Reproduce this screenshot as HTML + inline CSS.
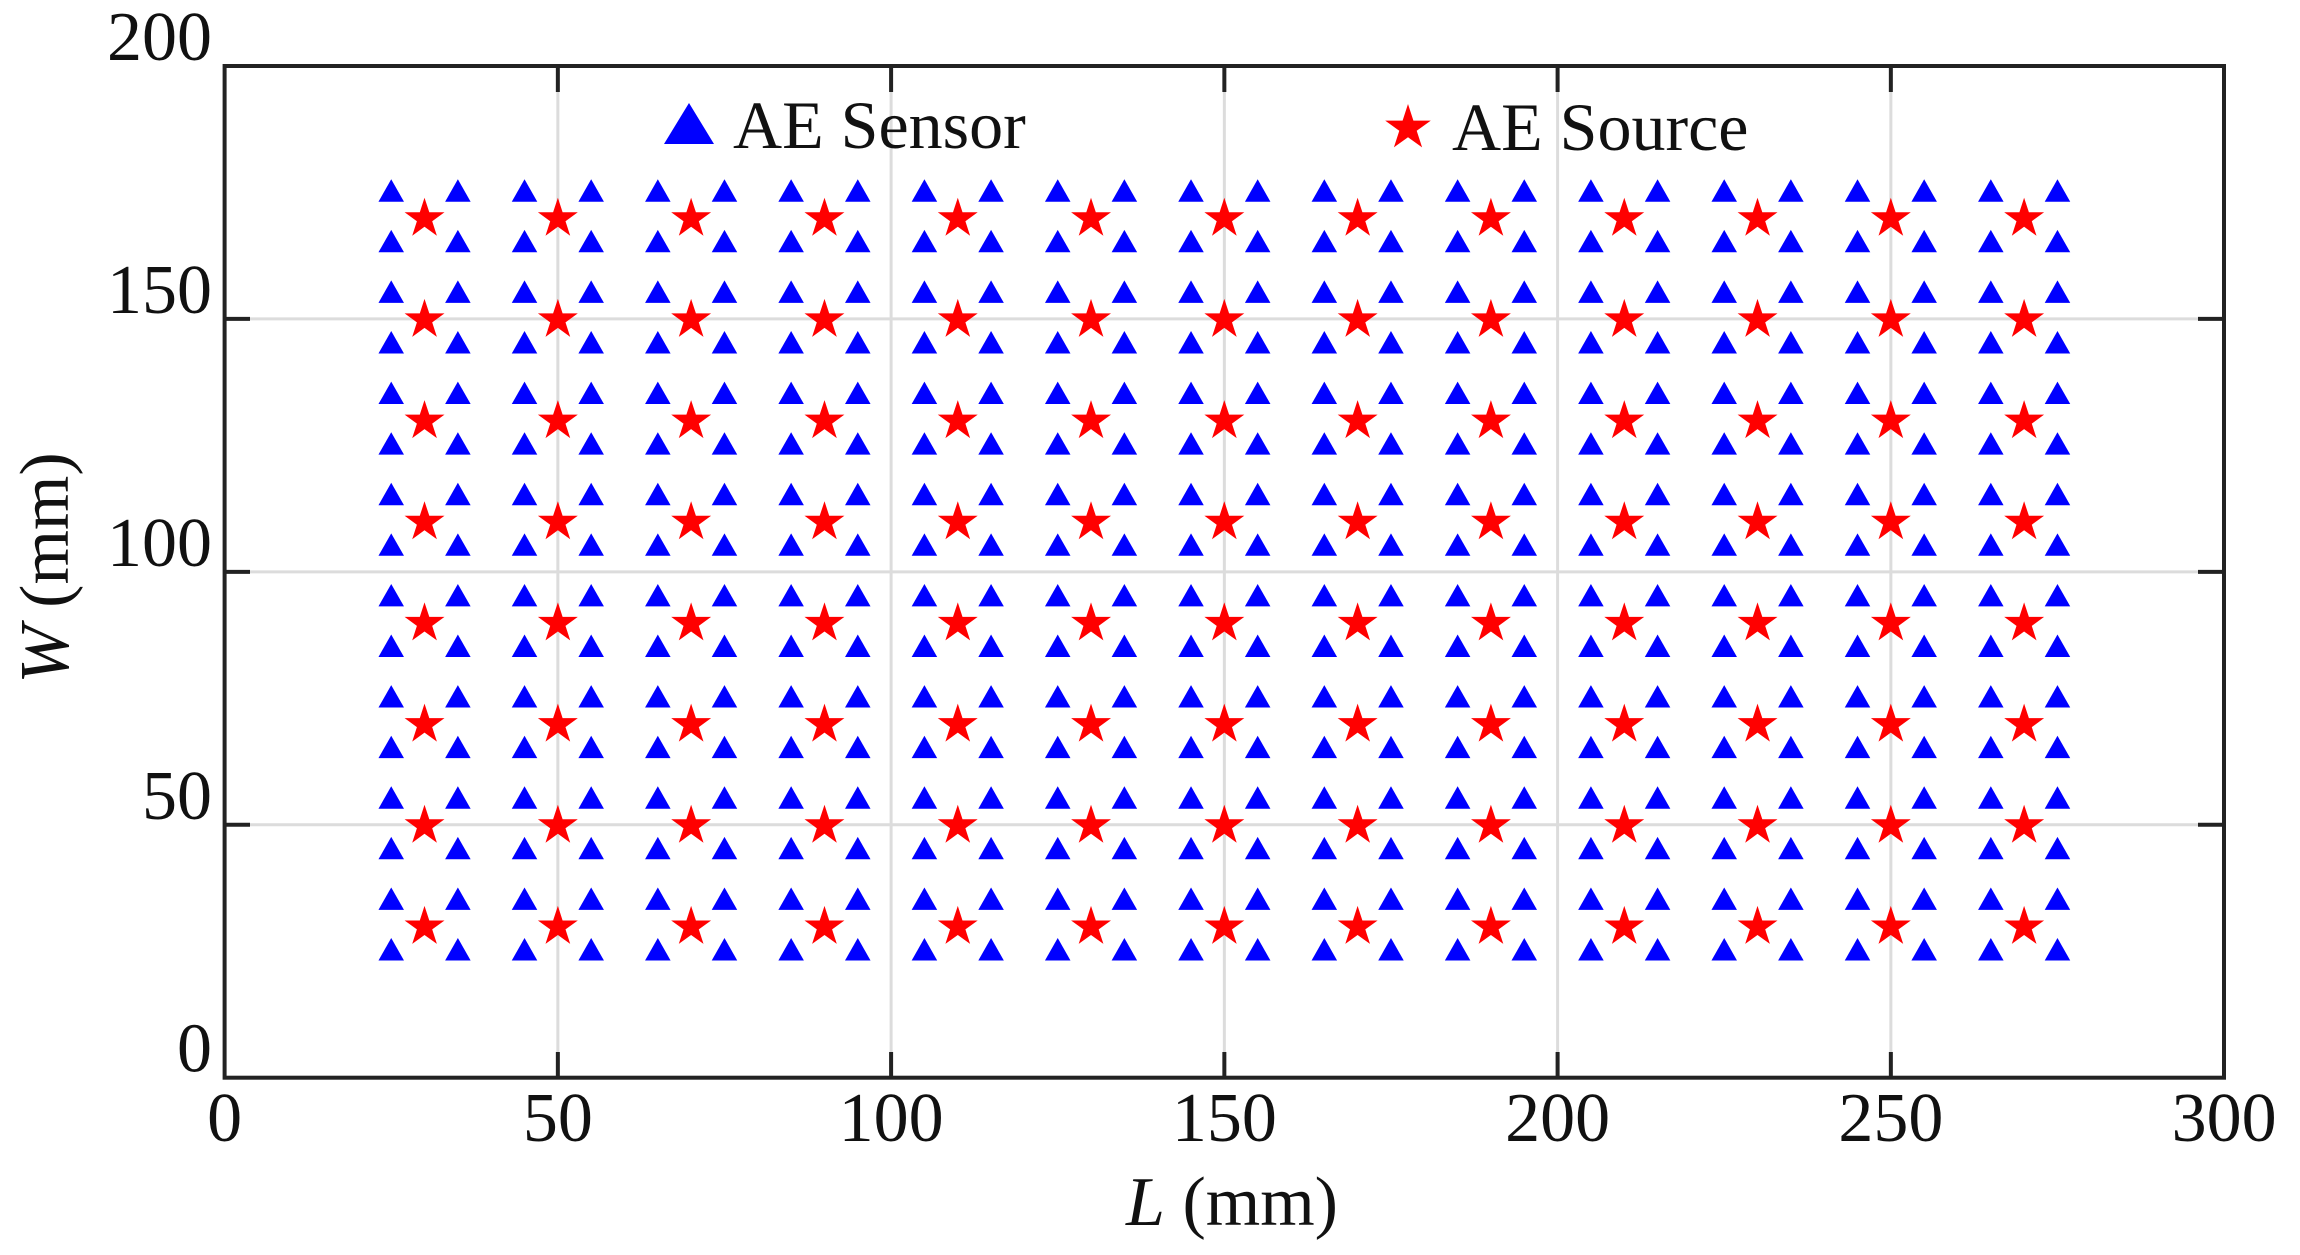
<!DOCTYPE html>
<html><head><style>body{margin:0;background:#fff}svg{display:block}</style></head>
<body>
<svg id="s" width="2300" height="1255" xmlns="http://www.w3.org/2000/svg" font-family="Liberation Serif, serif" fill="#111">
<rect width="2300" height="1255" fill="#fff"/>
<g id="grid" stroke="#dcdcdc" stroke-width="3"></g>
<g id="marks"></g>
<rect x="224.6" y="66" width="1999.4" height="1011.7" fill="none" stroke="#222" stroke-width="4"/>
<g id="ticks" stroke="#222" stroke-width="4"></g>
<g id="labels" font-size="70"></g>
<polygon points="689,103 664,144 714,144" fill="#0000ff"/>
<text x="733" y="148" font-size="68">AE Sensor</text>
<g id="legstar"></g>
<text x="1452" y="150" font-size="68">AE Source</text>
<text x="1232" y="1225" font-size="70" text-anchor="middle"><tspan font-style="italic">L</tspan> (mm)</text>
<text transform="translate(68,568) rotate(-90)" font-size="70" text-anchor="middle"><tspan font-style="italic">W</tspan> (mm)</text>
</svg>
<script>
var NS="http://www.w3.org/2000/svg";
function X(v){return 224.6+v*6.665;}function Y(v){return 1077.7-v*5.0585;}
function el(p,t,a){var e=document.createElementNS(NS,t);for(var k in a)e.setAttribute(k,a[k]);p.appendChild(e);return e;}
var g=document.getElementById('grid'),tk=document.getElementById('ticks'),lb=document.getElementById('labels'),m=document.getElementById('marks');
for(var v=50;v<300;v+=50){el(g,'line',{x1:X(v),x2:X(v),y1:66,y2:1077.7});}
for(var v=50;v<200;v+=50){el(g,'line',{x1:224.6,x2:2224,y1:Y(v),y2:Y(v)});}
for(var v=0;v<=300;v+=50){if(v>0&&v<300){el(tk,'line',{x1:X(v),x2:X(v),y1:1077.7,y2:1052});el(tk,'line',{x1:X(v),x2:X(v),y1:66,y2:92});}
 var t=el(lb,'text',{x:X(v),y:1141,'text-anchor':'middle'});t.textContent=v;}
for(var v=0;v<=200;v+=50){if(v>0&&v<200){el(tk,'line',{x1:224.6,x2:250,y1:Y(v),y2:Y(v)});el(tk,'line',{x1:2224,x2:2198,y1:Y(v),y2:Y(v)});}
 var t=el(lb,'text',{x:212,y:Y(v)-6,'text-anchor':'end'});t.textContent=v;}
function star(p,cx,cy,R){var r=R*0.382,pts=[];for(var i=0;i<10;i++){var a=-Math.PI/2+i*Math.PI/5,rr=i%2?r:R;pts.push((cx+rr*Math.cos(a)).toFixed(1)+','+(cy+rr*Math.sin(a)).toFixed(1));}el(p,'polygon',{points:pts.join(' '),fill:'#ff0000'});}
function tri(p,cx,cy,s){var h=s;el(p,'polygon',{points:(cx)+','+(cy-h*0.6)+' '+(cx-s*0.58)+','+(cy+h*0.42)+' '+(cx+s*0.58)+','+(cy+h*0.42),fill:'#0000ff'});}
for(var L=30;L<=270;L+=20)for(var W=30;W<=170;W+=20){
 [[-5,-5],[5,-5],[-5,5],[5,5]].forEach(function(d){tri(m,X(L+d[0]),Y(W+d[1]),22);});
 star(m,X(L),Y(W)+1,21);}
star(document.getElementById('legstar'),1408,128,24);
</script>
</body></html>
